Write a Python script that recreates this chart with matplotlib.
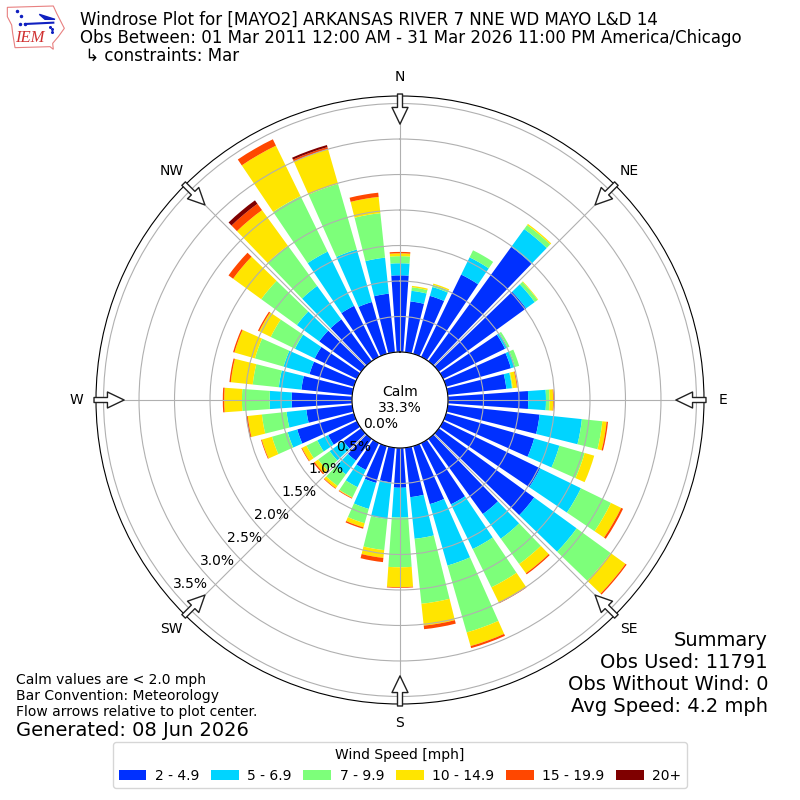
import numpy as np
import matplotlib
matplotlib.use('Agg')
import matplotlib.pyplot as plt
from matplotlib.patches import Polygon

# percent of observations per 10 degree direction (0 = N, clockwise)
directions = np.arange(0, 360, 10)
speed_labels = ['2 - 4.9', '5 - 6.9', '7 - 9.9', '10 - 14.9', '15 - 19.9', '20+']
speed_colors = ['#0030ff', '#00d4ff', '#7dff7a', '#ffe500', '#ff4700', '#7f0000']

blue = [1.08, .72, .85, 1.29, 1.99, 1.52, .97, .95, .83, 1.13, 1.30, 1.29,
	1.52, 1.66, 1.31, .96, .85, .70, .56, .49, .54, .42, .38, .31,
	.45, .83, .65, .85, .72, .65, .66, .73, .73, .80, .76, .83]
cyan = [.17, .15, .13, .27, .31, .15, .04, .06, .08, .25, .60, .37,
	.64, .74, .43, .70, .90, .59, .42, .52, .38, .27, .24, .24,
	.17, .14, .28, .31, .32, .38, .31, .39, .58, .85, .77, .51]
green = [.10, .05, .03, .11, .07, .05, .03, .06, .01, .05, .29, .37,
	.47, .59, .44, .60, .98, .92, .70, .44, .21, .16, .20, .20,
	.17, .23, .35, .39, .37, .42, .38, .62, .70, .87, .96, .63]
yellow = [.04, .02, .02, 0, .02, .01, 0, 0, .06, .05, .06, .14,
	.16, .26, .16, .24, .20, .31, .28, .11, .06, .01, .04, .06,
	.07, .15, .20, .25, .31, .30, .18, .49, .62, .79, .51, .23]
orange = [.02, 0, 0, 0, 0, 0, 0, 0, .01, .01, .02, 0,
	.03, .02, .02, .01, .03, .05, .01, .06, .02, .01, .01, .02,
	.01, .01, .02, .02, .02, .02, .02, .08, .11, .10, .03, .06]
darkred = [0, 0, 0, 0, 0, 0, 0, 0, 0, 0, 0, 0,
	0, 0, 0, 0, 0, 0, 0, 0, 0, 0, 0, 0,
	0, 0, 0, 0, 0, 0, 0, 0, .06, 0, .03, 0]
series = [blue, cyan, green, yellow, orange, darkred]

rings = [0, .5, 1, 1.5, 2, 2.5, 3, 3.5]
compass = ['N', 'NE', 'E', 'SE', 'S', 'SW', 'W', 'NW']

fig = plt.figure(figsize=(8, 8), dpi=100)
ax = fig.add_axes([.12, .12, .76, .76], projection='polar')
ax.set_theta_zero_location('N')
ax.set_theta_direction(-1)

# Stacked bars
theta = np.radians(directions)
bottom = np.zeros(len(directions))
for vals, name, col in zip(series, speed_labels, speed_colors):
	vals = np.array(vals)
	ax.bar(theta, vals, width=np.radians(8), bottom=bottom, color=col, label=name)
	bottom += vals

ax.set_ylim(0, 3.606)
ax.set_rorigin(-.676)
ax.set_rticks(rings)
ax.set_yticklabels(['%.1f%%' % r for r in rings])
ax.set_rlabel_position(230)
ax.set_thetagrids(np.arange(0, 360, 45), compass)
ax.grid(True)

# Flow arrows on the compass points
for ang in np.arange(0, 360, 45):
	ax.annotate('', xy=(np.radians(ang), 3.21), xytext=(np.radians(ang), 3.634),
		annotation_clip=False,
		arrowprops=dict(width=3.6, headwidth=11.5, headlength=12, shrink=0,
			facecolor='white', edgecolor='#222222', linewidth=1))

ax.text(.5, .5, 'Calm\n33.3%', transform=ax.transAxes, ha='center', va='center', fontsize=10)

# Header
fig.text(80 / 800, 1 - 20 / 800, 'Windrose Plot for [MAYO2] ARKANSAS RIVER 7 NNE WD MAYO L&D 14', fontsize=12, va='center')
fig.text(80 / 800, 1 - 38 / 800, 'Obs Between: 01 Mar 2011 12:00 AM - 31 Mar 2026 11:00 PM America/Chicago', fontsize=12, va='center')
fig.text(80 / 800, 1 - 56 / 800, ' ↳ constraints: Mar', fontsize=12, va='center')

# Footer notes
fig.text(16 / 800, 1 - 680 / 800, 'Calm values are < 2.0 mph', fontsize=10, va='center')
fig.text(16 / 800, 1 - 696 / 800, 'Bar Convention: Meteorology', fontsize=10, va='center')
fig.text(16 / 800, 1 - 712 / 800, 'Flow arrows relative to plot center.', fontsize=10, va='center')
fig.text(16 / 800, 1 - 730 / 800, 'Generated: 08 Jun 2026', fontsize=14, va='center')

summary = ['Summary', 'Obs Used: 11791', 'Obs Without Wind: 0', 'Avg Speed: 4.2 mph']
for i, line in enumerate(summary):
	fig.text(768 / 800, 1 - (640 + 22 * i) / 800, line, fontsize=14, ha='right', va='center')

fig.legend(*ax.get_legend_handles_labels(), loc='lower center', bbox_to_anchor=(.5, .006),
	ncol=6, title='Wind Speed [mph]', columnspacing=.85, handletextpad=.6)

# IEM logo, roughly
logo = fig.add_axes([0, 1 - 60 / 800, 70 / 800, 60 / 800])
logo.set_xlim(0, 210)
logo.set_ylim(180, 0)
logo.axis('off')
outline = [(22, 22), (160, 18), (170, 40), (193, 85), (175, 110), (158, 130), (160, 148),
	(150, 140), (45, 143), (38, 100), (35, 75), (22, 50)]
logo.add_patch(Polygon(outline, closed=True, fill=False, edgecolor='#e88080', linewidth=.8))
logo.plot([75, 160], [72, 68], color='#1020c0', linewidth=1.5)
logo.add_patch(Polygon([(118, 43), (165, 58), (135, 58)], closed=True, color='#1020c0'))
logo.plot([52, 62, 60, 75], [32, 48, 72, 72], 'o', color='#1020c0', markersize=1.5)
logo.plot([150, 155, 157], [80, 88, 95], 'o', color='#1020c0', markersize=1.2)
logo.text(90, 115, 'IEM', color='#d03030', fontsize=12, family='Liberation Serif', style='italic', ha='center', va='center')

fig.savefig('out.png', dpi=100)
